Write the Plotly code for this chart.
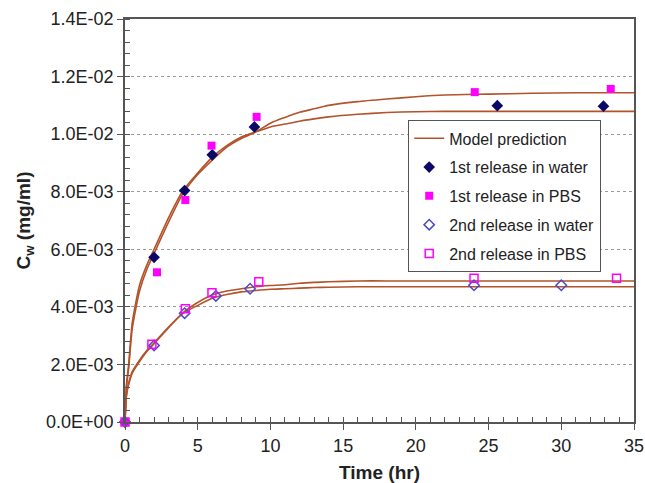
import plotly.graph_objects as go

# ---- data ----
t_model = [0, 0.1, 0.25, 0.5, 1, 1.5, 2, 3, 4, 5, 6, 7, 8, 9, 10, 11, 12, 13, 14, 16, 18, 20, 22, 25, 28, 31, 35]
model_w1 = [0, 1.3, 2.0, 3.45, 4.75, 5.45, 6.0, 7.1, 8.05, 8.65, 9.2, 9.6, 9.9, 10.08, 10.25, 10.35, 10.45, 10.53,
            10.60, 10.69, 10.75, 10.78, 10.79, 10.79, 10.79, 10.79, 10.79]
model_p1 = [0, 1.2, 1.85, 3.25, 4.55, 5.3, 5.85, 6.95, 7.95, 8.6, 9.1, 9.55, 9.85, 10.08, 10.38, 10.58, 10.76, 10.88,
            11.0, 11.13, 11.22, 11.30, 11.36, 11.39, 11.42, 11.44, 11.44]
model_w2 = [0, 0.95, 1.35, 1.75, 2.15, 2.48, 2.75, 3.3, 3.78, 4.05, 4.30, 4.43, 4.52, 4.57, 4.61, 4.63, 4.65, 4.67,
            4.68, 4.70, 4.70, 4.70, 4.70, 4.70, 4.70, 4.70, 4.70]
model_p2 = [0, 0.9, 1.3, 1.7, 2.1, 2.45, 2.72, 3.28, 3.8, 4.15, 4.41, 4.55, 4.63, 4.70, 4.74, 4.77, 4.82, 4.85,
            4.87, 4.90, 4.90, 4.90, 4.90, 4.90, 4.90, 4.90, 4.90]

t_w1 = [0, 2.0, 4.1, 6.0, 8.9, 25.6, 32.9]
c_w1 = [0, 5.72, 8.04, 9.28, 10.25, 10.99, 10.97]
t_p1 = [0, 2.2, 4.15, 5.95, 9.05, 24.05, 33.4]
c_p1 = [0, 5.2, 7.71, 9.6, 10.6, 11.46, 11.57]
t_w2 = [0, 2.0, 4.1, 6.25, 8.6, 24.0, 30.0]
c_w2 = [0, 2.66, 3.78, 4.38, 4.63, 4.75, 4.75]
t_p2 = [0, 1.85, 4.15, 5.98, 9.2, 24.0, 33.8]
c_p2 = [0, 2.7, 3.93, 4.49, 4.87, 4.99, 4.99]

y_tickvals = [0, 0.002, 0.004, 0.006, 0.008, 0.010, 0.012, 0.014]
y_ticktext = ["0.0E+00", "2.0E-03", "4.0E-03", "6.0E-03", "8.0E-03", "1.0E-02", "1.2E-02", "1.4E-02"]
x_tickvals = [0, 5, 10, 15, 20, 25, 30, 35]

scale = 1e-3
def sc(v):
    return [a * scale for a in v]

brown = "#B3532B"
fig = go.Figure()

for i, curve in enumerate([model_w1, model_p1, model_w2, model_p2]):
    fig.add_trace(go.Scatter(
        x=t_model, y=sc(curve), mode="lines",
        line=dict(color=brown, width=1.6, shape="spline", smoothing=0.6),
        name="Model prediction", legendgroup="model", showlegend=(i == 0),
        cliponaxis=False,
    ))

fig.add_trace(go.Scatter(x=t_w1, y=sc(c_w1), mode="markers", name="1st release in water",
                         legendgroup="w1",
                         marker=dict(symbol="diamond", size=9, color="#0A0A66"), cliponaxis=False))
fig.add_trace(go.Scatter(x=t_p1, y=sc(c_p1), mode="markers", name="1st release in PBS",
                         legendgroup="p1",
                         marker=dict(symbol="square", size=8, color="#FF00FF"), cliponaxis=False))
fig.add_trace(go.Scatter(x=t_w2, y=sc(c_w2), mode="markers", name="2nd release in water",
                         legendgroup="w2",
                         marker=dict(symbol="diamond-open", size=8, color="#4B4BC8",
                                     line=dict(width=1.5, color="#4B4BC8")), cliponaxis=False))
fig.add_trace(go.Scatter(x=t_p2, y=sc(c_p2), mode="markers", name="2nd release in PBS",
                         legendgroup="p2",
                         marker=dict(symbol="square-open", size=8, color="#FF00FF",
                                     line=dict(width=1.5, color="#FF00FF")), cliponaxis=False))

font_family = "Arial, Liberation Sans, sans-serif"
fig.update_layout(
    width=645, height=483,
    margin=dict(l=125, r=11, t=19, b=61, autoexpand=False),
    paper_bgcolor="white", plot_bgcolor="white",
    font=dict(family=font_family, size=18, color="#222"),
    legend=dict(
        x=0.556, y=0.749, xanchor="left", yanchor="top",
        bgcolor="white", bordercolor="#555", borderwidth=1.2,
        font=dict(size=16, color="#222"),
        tracegroupgap=5,
    ),
    xaxis=dict(
        range=[0, 35], tickvals=x_tickvals, automargin=False,
        ticks="outside", ticklen=6, tickwidth=1.2, tickcolor="#555",
        minor=dict(dtick=1, ticks="inside", ticklen=5, tickwidth=1, tickcolor="#555"),
        showline=True, linecolor="#555", linewidth=1.8, mirror=True,
        showgrid=False, zeroline=False,
        title=dict(text="<b>Time (hr)</b>", font=dict(size=19), standoff=12),
    ),
    yaxis=dict(
        range=[0, 0.014], tickvals=y_tickvals, ticktext=y_ticktext, automargin=False,
        ticks="outside", ticklen=6, tickwidth=1.2, tickcolor="#555",
        minor=dict(dtick=0.0004, ticks="inside", ticklen=5, tickwidth=1, tickcolor="#555", showgrid=False),
        showline=True, linecolor="#555", linewidth=1.8, mirror=True,
        showgrid=True, gridcolor="#9A9A9A", gridwidth=1, griddash="3px,3px",
        zeroline=False,
        title=dict(text="<b>C<sub>w</sub> (mg/ml)</b>", font=dict(size=19), standoff=10),
    ),
)

fig.write_html("out.html", config={"displayModeBar": False},
               post_script="document.body.style.margin='0';document.body.style.overflow='hidden';")
